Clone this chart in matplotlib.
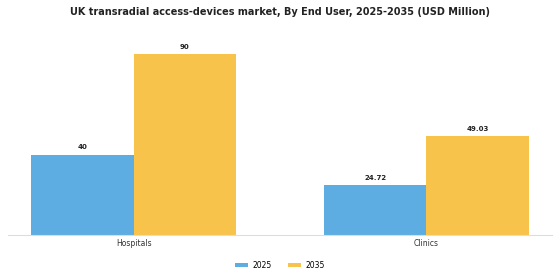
import numpy as np
import matplotlib
matplotlib.use("Agg")
import matplotlib.pyplot as plt

categories = ["Hospitals", "Clinics"]
years = ["2025", "2035"]
values_2025 = [40, 24.72]
values_2035 = [90, 49.03]
labels_2025 = ["40", "24.72"]
labels_2035 = ["90", "49.03"]

fig = plt.figure(figsize=(5.6, 2.8), dpi=100)
ax = fig.add_axes([0.014, 0.161, 0.972, 0.718])

x = np.arange(len(categories))
w = 0.35
b1 = ax.bar(x - w/2, values_2025, w, color="#5DADE2", label=years[0])
b2 = ax.bar(x + w/2, values_2035, w, color="#F7C34A", label=years[1])

for bars, labs in ((b1, labels_2025), (b2, labels_2035)):
    for b, t in zip(bars, labs):
        ax.text(b.get_x() + b.get_width()/2, b.get_height() + 2, t,
                ha="center", va="bottom", fontsize=5, fontweight="bold", color="#222222")

ax.set_xlim(-0.43, 1.43)
ax.set_ylim(0, 100)
ax.set_xticks(x)
ax.set_xticklabels(categories, fontsize=5.5, color="#333333")
ax.tick_params(axis="x", length=0, pad=3)
ax.set_yticks([])
for s in ("top", "right", "left"):
    ax.spines[s].set_visible(False)
ax.spines["bottom"].set_color("#dddddd")
ax.spines["bottom"].set_linewidth(0.8)

fig.suptitle("UK transradial access-devices market, By End User, 2025-2035 (USD Million)",
             fontsize=7, fontweight="bold", color="#222222", y=0.975)
fig.legend(loc="center", bbox_to_anchor=(0.5, 0.053), ncol=2, frameon=False,
           fontsize=5.5, handlelength=1.6, handleheight=0.6, handletextpad=0.6,
           columnspacing=2.2)

fig.savefig("out.png", dpi=100, facecolor="white")
